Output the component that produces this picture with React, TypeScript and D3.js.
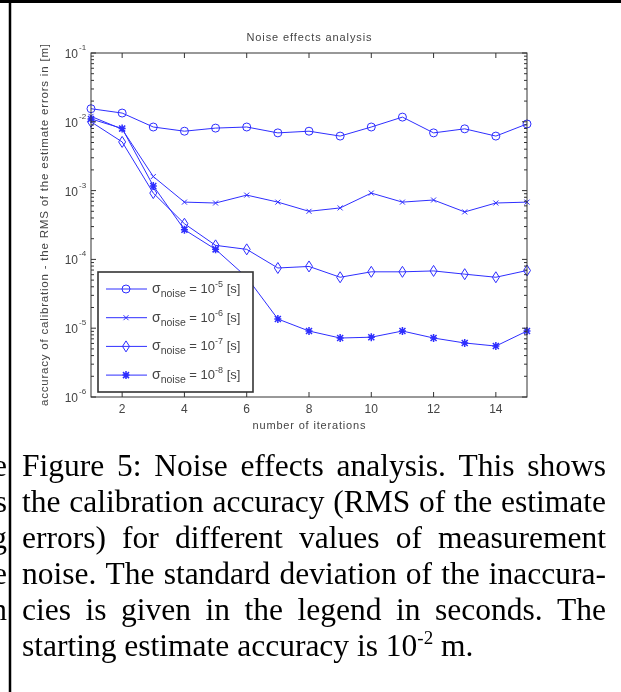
import React, { useEffect, useRef } from "react";
import * as d3 from "d3";

const ITERATIONS = [1, 2, 3, 4, 5, 6, 7, 8, 9, 10, 11, 12, 13, 14, 15];
const NOISE_1E5 = [0.0155, 0.0134, 0.0084, 0.0073, 0.0081, 0.0084, 0.0069, 0.0073, 0.0062, 0.0084, 0.0117, 0.0069, 0.0079, 0.0062, 0.0093];
const NOISE_1E6 = [0.012, 0.0078, 0.0016, 0.00068, 0.00066, 0.00086, 0.00068, 0.0005, 0.00056, 0.00092, 0.00068, 0.00073, 0.00049, 0.00066, 0.00068];
const NOISE_1E7 = [0.01, 0.0051, 0.00092, 0.00033, 0.00016, 0.00014, 0.000075, 0.000079, 0.000055, 0.000066, 0.000066, 0.000068, 0.000061, 0.000055, 0.000069];
const NOISE_1E8 = [0.011, 0.008, 0.00117, 0.00027, 0.00014, 0.000055, 0.0000136, 0.0000091, 0.0000072, 0.0000074, 0.0000091, 0.0000072, 0.0000061, 0.0000055, 0.0000091];
const SERIES_EXP = ["-5", "-6", "-7", "-8"];
const SERIES_MARKERS = ["circle", "x", "diamond", "star"];
const X_TICKS = [2, 4, 6, 8, 10, 12, 14];
const Y_DECADES = [-6, -5, -4, -3, -2, -1];
const TITLE = "Noise effects analysis";
const X_LABEL = "number of iterations";
const Y_LABEL = "accuracy of calibration - the RMS of the estimate errors in [m]";
const CAPTION_LINES = [
  "Figure 5: Noise effects analysis. This shows",
  "the calibration accuracy (RMS of the estimate",
  "errors) for different values of measurement",
  "noise. The standard deviation of the inaccura-",
  "cies is given in the legend in seconds. The",
];
const CAPTION_LAST = ["starting estimate accuracy is 10", "-2", " m."];
const LEFT_FRAGMENTS = ["e", "s", "g", "e", "n"];

const W = 621;
const H = 692;
const BLUE = "#2e2eff";
const AX = "#333";
const FONT = "'Liberation Sans', Arial, sans-serif";
const SERIF = "'Liberation Serif', 'Times New Roman', serif";

function Marker({ kind, x, y }: { kind: string; x: number; y: number }) {
  if (kind === "circle") return <circle cx={x} cy={y} r={4} fill="none" stroke={BLUE} strokeWidth={1} />;
  if (kind === "x")
    return (
      <path d={`M${x - 2.5},${y - 2.5}L${x + 2.5},${y + 2.5}M${x - 2.5},${y + 2.5}L${x + 2.5},${y - 2.5}`} stroke={BLUE} strokeWidth={1} />
    );
  if (kind === "diamond")
    return <path d={`M${x},${y - 5.5}L${x + 3.5},${y}L${x},${y + 5.5}L${x - 3.5},${y}Z`} fill="none" stroke={BLUE} strokeWidth={1} />;
  return (
    <path
      d={`M${x},${y - 4}L${x},${y + 4}M${x - 3},${y - 3}L${x + 3},${y + 3}M${x - 3},${y + 3}L${x + 3},${y - 3}M${x - 3.5},${y}L${x + 3.5},${y}`}
      stroke={BLUE}
      strokeWidth={1.5}
    />
  );
}

export default function App() {
  const capRef = useRef<SVGGElement>(null);

  const x = d3.scaleLinear().domain([1, 15]).range([91, 527]);
  const y = d3.scaleLog().domain([1e-6, 1e-1]).range([397, 53]);
  const series = [NOISE_1E5, NOISE_1E6, NOISE_1E7, NOISE_1E8];
  const line = d3
    .line<number>()
    .x((_, i) => x(ITERATIONS[i]))
    .y((d) => y(d));

  const minor: number[] = [];
  Y_DECADES.slice(0, -1).forEach((e) => {
    [2, 3, 4, 5, 6, 7, 8, 9].forEach((m) => minor.push(m * Math.pow(10, e)));
  });

  const CAP_FS = 31.5;
  const CAP_Y0 = 476;
  const CAP_DY = 36;

  useEffect(() => {
    const g = d3.select(capRef.current);
    g.selectAll("*").remove();
    const left = 22;
    const right = 606;
    CAPTION_LINES.forEach((ln, li) => {
      const words = ln.split(" ");
      const by = CAP_Y0 + li * CAP_DY;
      const nodes = words.map((w) =>
        g.append("text").attr("y", by).attr("font-family", SERIF).attr("font-size", CAP_FS).attr("fill", "#000").text(w)
      );
      const widths = nodes.map((n) => (n.node() as SVGTextElement).getComputedTextLength());
      const total = d3.sum(widths);
      const gap = (right - left - total) / (words.length - 1);
      let cx = left;
      nodes.forEach((n, i) => {
        n.attr("x", cx);
        cx += widths[i] + gap;
      });
    });
    const t = g
      .append("text")
      .attr("x", left)
      .attr("y", CAP_Y0 + 5 * CAP_DY)
      .attr("font-family", SERIF)
      .attr("font-size", CAP_FS)
      .attr("fill", "#000");
    t.append("tspan").text(CAPTION_LAST[0]);
    t.append("tspan").attr("font-size", 19).attr("dy", -12).text(CAPTION_LAST[1]);
    t.append("tspan").attr("dy", 12).text(CAPTION_LAST[2]);
  }, []);

  return (
    <svg width={W} height={H} style={{ position: "absolute", left: 0, top: 0, background: "#fff" }}>
      <defs>
        <filter id="soft" x="-5%" y="-5%" width="110%" height="110%">
          <feGaussianBlur stdDeviation={0.45} />
        </filter>
        <clipPath id="leftclip">
          <rect x={0} y={0} width={7} height={H} />
        </clipPath>
      </defs>
      <rect width={W} height={H} fill="#fff" />
      <g filter="url(#soft)">
        <text x={309} y={41} textAnchor="middle" fontFamily={FONT} fontSize={11} fill="#444" textLength={125}>
          {TITLE}
        </text>
        {series.map((s, si) => (
          <path key={si} d={line(s) || ""} fill="none" stroke={BLUE} strokeWidth={1} />
        ))}
        {series.map((s, si) =>
          s.map((v, i) => <Marker key={`${si}-${i}`} kind={SERIES_MARKERS[si]} x={x(ITERATIONS[i])} y={y(v)} />)
        )}
        <rect x={91} y={53} width={436} height={344} fill="none" stroke={AX} strokeWidth={1} />
        {X_TICKS.map((t) => (
          <g key={t}>
            <line x1={x(t)} x2={x(t)} y1={397} y2={392} stroke={AX} />
            <line x1={x(t)} x2={x(t)} y1={53} y2={58} stroke={AX} />
            <text x={x(t)} y={413} textAnchor="middle" fontFamily={FONT} fontSize={12} fill="#444">
              {t}
            </text>
          </g>
        ))}
        {Y_DECADES.map((e) => (
          <g key={e}>
            <line x1={91} x2={96} y1={y(Math.pow(10, e))} y2={y(Math.pow(10, e))} stroke={AX} />
            <line x1={527} x2={522} y1={y(Math.pow(10, e))} y2={y(Math.pow(10, e))} stroke={AX} />
            <text x={78} y={y(Math.pow(10, e)) + 5} textAnchor="end" fontFamily={FONT} fontSize={12} fill="#444">
              10
            </text>
            <text x={79} y={y(Math.pow(10, e)) - 3} fontFamily={FONT} fontSize={8} fill="#444">
              {e}
            </text>
          </g>
        ))}
        {minor.map((m, i) => (
          <g key={i}>
            <line x1={91} x2={94} y1={y(m)} y2={y(m)} stroke={AX} />
            <line x1={527} x2={524} y1={y(m)} y2={y(m)} stroke={AX} />
          </g>
        ))}
        <text x={309} y={429} textAnchor="middle" fontFamily={FONT} fontSize={11} fill="#444" textLength={113}>
          {X_LABEL}
        </text>
        <text
          transform={`translate(48,${(53 + 397) / 2}) rotate(-90)`}
          textAnchor="middle"
          fontFamily={FONT}
          fontSize={11.5}
          fill="#444"
          textLength={362}
        >
          {Y_LABEL}
        </text>
        <rect x={98} y={272} width={155} height={120} fill="#fff" stroke="#333" strokeWidth={1.6} />
        {SERIES_EXP.map((e, i) => {
          const ly = 289 + i * 28.7;
          return (
            <g key={e}>
              <line x1={106} x2={147} y1={ly} y2={ly} stroke={BLUE} strokeWidth={1} />
              <Marker kind={SERIES_MARKERS[i]} x={126} y={ly} />
              <text x={152} y={ly + 4} fontFamily={FONT} fontSize={14} fill="#444">
                σ
                <tspan fontSize={10.5} dy={4}>noise</tspan>
                <tspan fontSize={13} dy={-4}> = 10</tspan>
                <tspan fontSize={9} dy={-6}>{e}</tspan>
                <tspan fontSize={13} dy={6}> [s]</tspan>
              </text>
            </g>
          );
        })}
      </g>
      <line x1={0} x2={W} y1={1.5} y2={1.5} stroke="#000" strokeWidth={3} />
      <line x1={10} x2={10} y1={0} y2={H} stroke="#000" strokeWidth={2.5} />
      <g clipPath="url(#leftclip)">
        {LEFT_FRAGMENTS.map((f, i) => (
          <text key={i} x={7} y={CAP_Y0 + i * CAP_DY} textAnchor="end" fontFamily={SERIF} fontSize={CAP_FS} fill="#000">
            {f}
          </text>
        ))}
      </g>
      <g ref={capRef} />
    </svg>
  );
}
